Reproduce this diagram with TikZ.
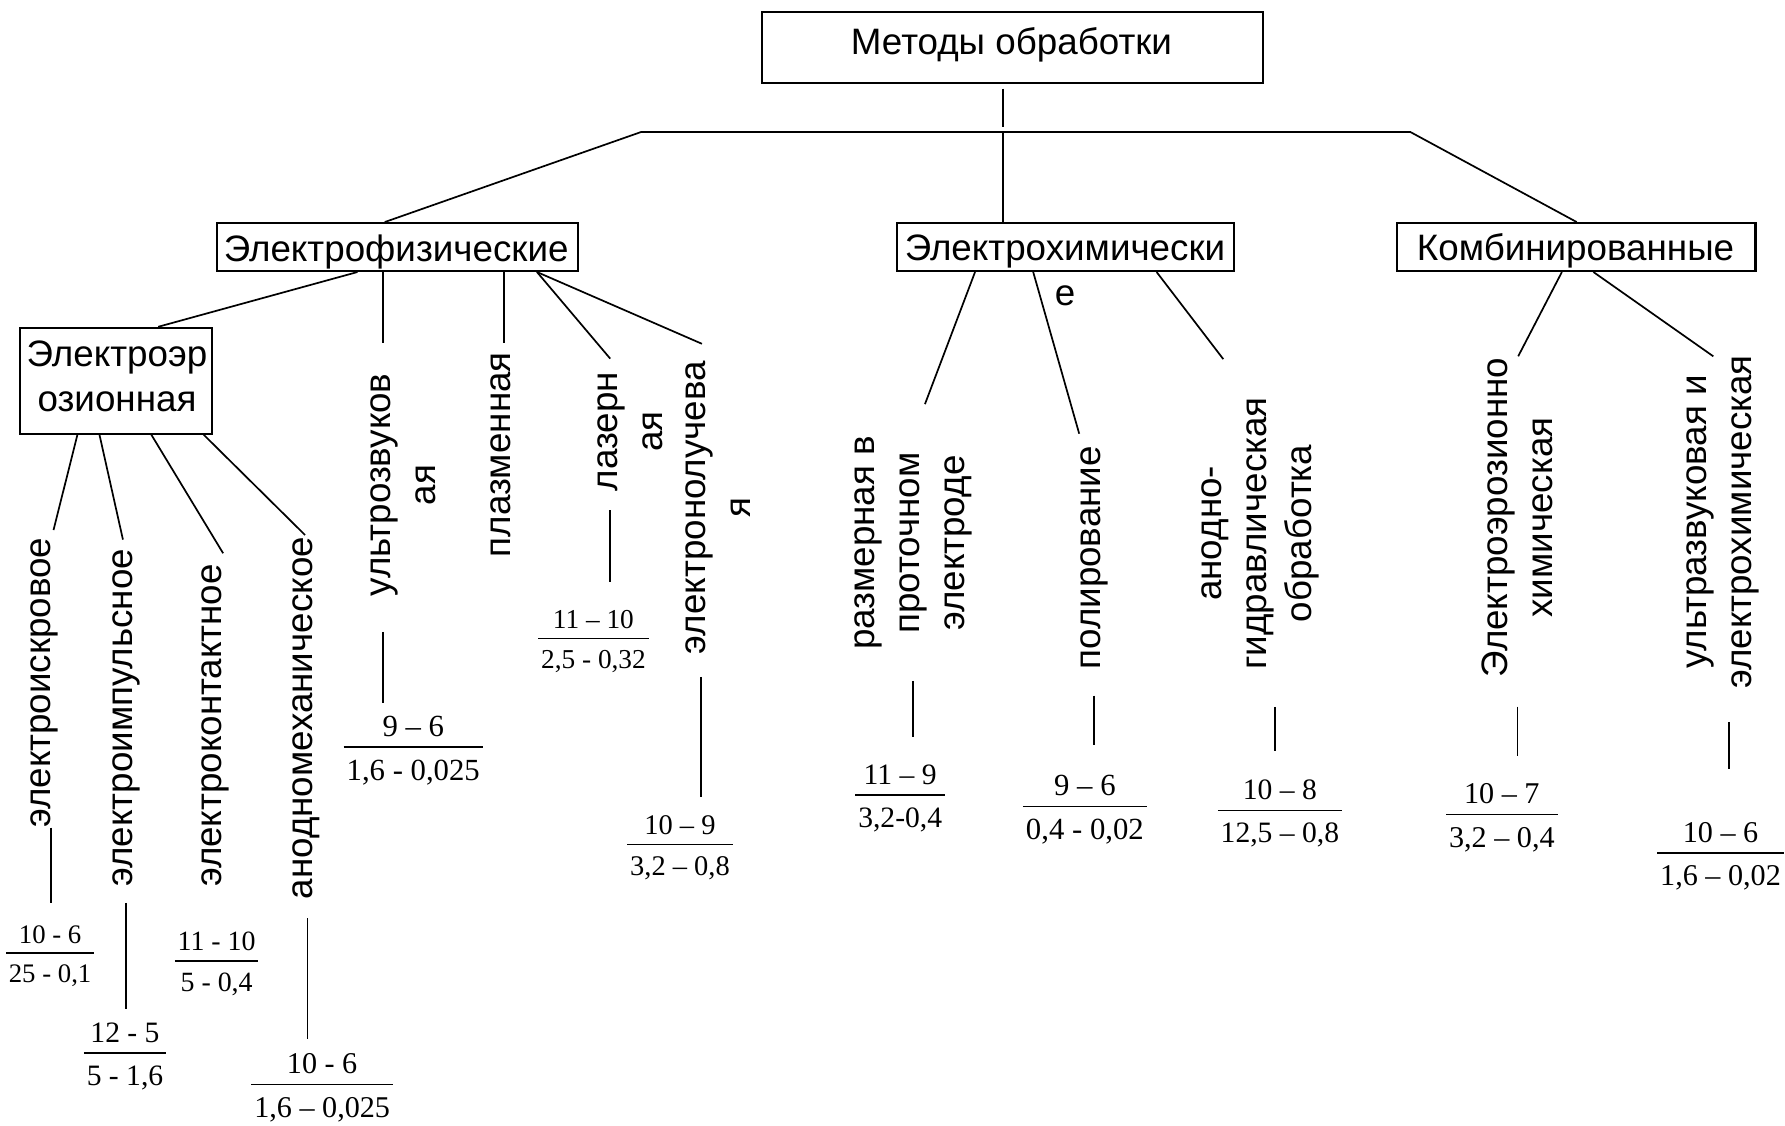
\documentclass[tikz,border=0pt]{standalone}
\usepackage{fontspec}
\setmainfont{Liberation Sans}
\newfontfamily\tnr{Liberation Serif}
\usetikzlibrary{calc}
\newcommand\tp{\rule{0pt}{0.75em}}
\newcommand\bt{\rule[-0.25em]{0pt}{0.25em}}
\newcommand\fracx[3]{{\tnr\fontsize{#1}{#1}\selectfont\vbox{\halign{\hfil\kern0.1em##\kern0.1em\hfil\cr\rule{0pt}{0.95em}#2\cr\noalign{\kern0.33em\hrule height 1.1pt\kern0.38em}\rule[-0.2em]{0pt}{0.89em}#3\cr}}}}
\begin{document}
\begin{tikzpicture}[x=1pt,y=-1pt,
  box/.style={draw,line width=1.9pt,inner sep=0pt},
  lbl/.style={font=\fontsize{32.3}{39.5}\selectfont,inner sep=0pt,align=center},
  vlbl/.style={lbl,rotate=90},
  frc/.style={inner sep=0pt},
  conn/.style={line width=1.5pt}]
\useasboundingbox[fill=white] (0,0) rectangle (1568,989);
% boxes
\node[box,minimum width=440.1pt,minimum height=62.4pt] (tb) at (889.45,41.4) {};
\node[lbl,anchor=base] (tbt) at (888.5,48.3) {Методы обработки};
\node[box,minimum width=317.1pt,minimum height=42pt] (ef) at (349.15,217) {};
\node[lbl,anchor=base] (eft) at (348,229.9) {Электрофизические};
\node[box,minimum width=296pt,minimum height=42pt] (ech) at (936,217) {};
\node[lbl] (echt) at (935.5,240.7) {\tp Электрохимически\\е\bt};
\node[box,minimum width=315pt,minimum height=42pt] (kb) at (1384.5,217) {};
\node[lbl,anchor=base] (kbt) at (1384,228.8) {Комбинированные};
\node[box,minimum width=168.4pt,minimum height=93pt] (eer) at (101.8,334.5) {};
\node[lbl] (eert) at (102.8,333.9) {\tp Электроэр\\озионная\bt};
% rotated labels
\node[vlbl] (l1) at (36.7,599.8) {\tp электроискровое\bt};
\node[vlbl] (l2) at (108.2,630.5) {\tp электроимпульсное\bt};
\node[vlbl] (l3) at (186.7,637.3) {\tp электроконтактное\bt};
\node[vlbl] (l4) at (266.2,630.8) {\tp анодномеханическое\bt};
\node[vlbl] (l5) at (354.7,426) {\tp ультрозвуков\\ая\bt};
\node[vlbl] (l6) at (440.7,399.5) {\tp плазменная\bt};
\node[vlbl] (l7) at (553.7,379) {\tp лазерн\\ая\bt};
\node[vlbl] (l8) at (631.7,445.8) {\tp электронолучева\\я\bt};
\node[vlbl] (l9) at (799.7,477) {\tp размерная в\\проточном\\электроде\bt};
\node[vlbl] (l10) at (958.7,490) {\tp полирование\bt};
\node[vlbl] (l11) at (1104.3,468.5) {\tp анодно-\\гидравлическая\\обработка\bt};
\node[vlbl] (l12) at (1335.6,454.5) {\tp Электроэрозионно\\химическая\bt};
\node[vlbl] (l13) at (1510.4,458.5) {\tp ультразвуковая и\\электрохимическая\bt};
% fractions
\node[frc] (f1) at (44,837) {\fracx{23.5}{10 - 6}{25 - 0,1}};
\node[frc] (f2) at (109.8,924.7) {\fracx{26}{12 - 5}{5 - 1,6}};
\node[frc] (f3) at (190.3,844) {\fracx{24.5}{11 - 10}{5 - 0,4}};
\node[frc] (f4) at (283,952.5) {\fracx{26.5}{10 - 6}{1,6 – 0,025}};
\node[frc] (f5) at (363,656) {\fracx{27}{9 – 6}{1,6 - 0,025}};
\node[frc] (f6) at (521.3,560.7) {\fracx{24}{11 – 10}{2,5 - 0,32}};
\node[frc] (f7) at (597.3,741.5) {\fracx{25}{10 – 9}{3,2 – 0,8}};
\node[frc] (f8) at (790.75,698) {\fracx{26}{11 – 9}{3,2-0,4}};
\node[frc] (f9) at (953,708) {\fracx{27}{9 – 6}{0,4 - 0,02}};
\node[frc] (f10) at (1124.3,711.6) {\fracx{26}{10 – 8}{12,5 – 0,8}};
\node[frc] (f11) at (1319.25,715) {\fracx{26.5}{10 – 7}{3,2 – 0,4}};
\node[frc] (f12) at (1511.35,749) {\fracx{26.5}{10 – 6}{1,6 – 0,02}};
% top level connectors
\coordinate (hl) at (563,116);
\coordinate (hr) at (1239,116);
\draw[conn] ([xshift=-8.45pt,yshift=-4.4pt]tb.south) -- ([xshift=-8.45pt,yshift=-38.4pt]tb.south);
\draw[conn] ([xshift=-11.15pt]ef.north) -- (hl) -- (hr) -- ([xshift=0.5pt]kb.north);
\draw[conn] ([xshift=-55pt]ech.north) -- ++(0,-80);
% Электрофизические
\draw[conn] ([xshift=-35.15pt]ef.south) -- ([xshift=37.2pt]eer.north);
\draw[conn] ([xshift=-12.55pt]ef.south) -- ([xshift=-18.1pt,yshift=125pt]l5.center);
\draw[conn] ([xshift=93.55pt]ef.south) -- ([xshift=2pt,yshift=98.5pt]l6.center);
\draw[conn] ([xshift=122.55pt]ef.south) -- ([xshift=-17.7pt,yshift=64pt]l7.center);
\draw[conn] ([xshift=122.55pt]ef.south) -- ([xshift=-15.1pt,yshift=143.8pt]l8.center);
% Электроэрозионная
\draw[conn] ([xshift=-33.8pt]eer.south) -- ([xshift=10.3pt,yshift=134.2pt]l1.center);
\draw[conn] ([xshift=-14.4pt]eer.south) -- ([xshift=-0.2pt,yshift=156.5pt]l2.center);
\draw[conn] ([xshift=31.2pt]eer.south) -- ([xshift=9.3pt,yshift=151.3pt]l3.center);
\draw[conn] ([xshift=77.2pt]eer.south) -- ([xshift=1.8pt,yshift=160.8pt]l4.center);
% label to fraction
\draw[conn] ([xshift=7.8pt,yshift=-127.2pt]l1.center) -- ([xshift=0.5pt,yshift=44pt]f1.center);
\draw[conn] ([xshift=2.5pt,yshift=-162.5pt]l2.center) -- ([xshift=0.9pt,yshift=38.7pt]f2.center);
\draw[conn] ([xshift=3.8pt,yshift=-175.8pt]l4.center) -- ([xshift=-13pt,yshift=39.8pt]f4.center);
\draw[conn] ([xshift=-18pt,yshift=-129pt]l5.center) -- ([xshift=-26.3pt,yshift=38.5pt]f5.center);
\draw[conn] ([xshift=-17.7pt,yshift=-69pt]l7.center) -- ([xshift=14.7pt,yshift=49.7pt]f6.center);
\draw[conn] ([xshift=-15.7pt,yshift=-148.8pt]l8.center) -- ([xshift=18.7pt,yshift=41.5pt]f7.center);
% Электрохимические
\draw[conn] ([xshift=-79.5pt]ech.south) -- ([xshift=12.8pt,yshift=122pt]l9.center);
\draw[conn] ([xshift=-28.4pt]ech.south) -- ([xshift=-10.7pt,yshift=109pt]l10.center);
\draw[conn] ([xshift=80pt]ech.south) -- ([xshift=-29.7pt,yshift=153pt]l11.center);
\draw[conn] ([xshift=2pt,yshift=-121pt]l9.center) -- ([xshift=10.95pt,yshift=51pt]f8.center);
\draw[conn] ([xshift=2.3pt,yshift=-121pt]l10.center) -- ([xshift=8pt,yshift=53.5pt]f9.center);
\draw[conn] ([xshift=15.7pt,yshift=-152.5pt]l11.center) -- ([xshift=-4.3pt,yshift=51.6pt]f10.center);
% Комбинированные
\draw[conn] ([xshift=-12.5pt]kb.south) -- ([xshift=-2pt,yshift=141.5pt]l12.center);
\draw[conn] ([xshift=15.2pt]kb.south) -- ([xshift=-5.4pt,yshift=145.5pt]l13.center);
\draw[conn] ([xshift=-2.6pt,yshift=-166.3pt]l12.center) -- ([xshift=13.75pt,yshift=51pt]f11.center);
\draw[conn] ([xshift=8.6pt,yshift=-175.5pt]l13.center) -- ([xshift=7.65pt,yshift=73.4pt]f12.center);
\end{tikzpicture}
\end{document}
